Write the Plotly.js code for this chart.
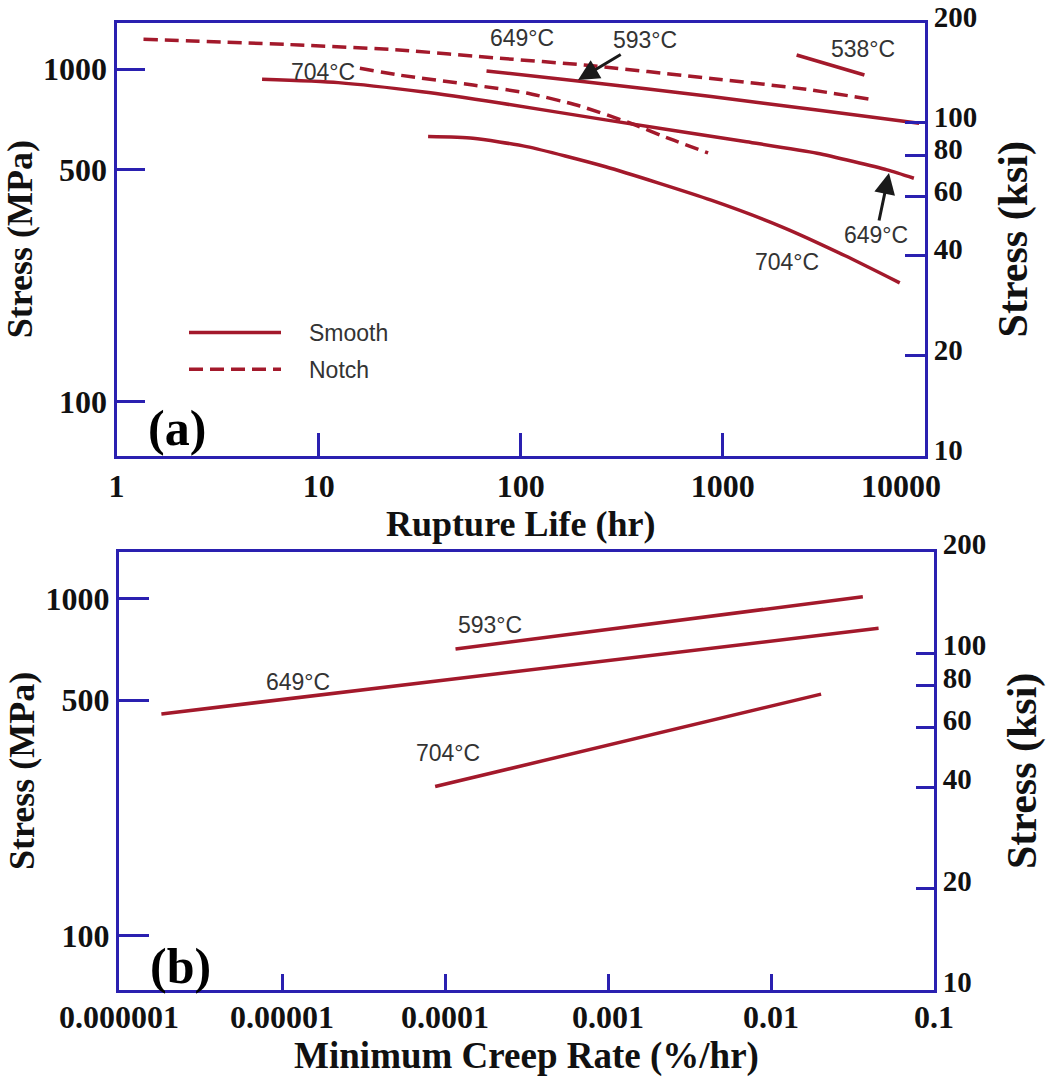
<!DOCTYPE html>
<html>
<head>
<meta charset="utf-8">
<script src="https://cdn.plot.ly/plotly-3.0.1.min.js"></script>
<style>html,body{margin:0;padding:0;background:#fff;}#chart{width:1052px;height:1083px;}</style>
</head>
<body>
<div id="chart"></div>
<script>
// ---------- Panel (a): rupture life (hr) vs stress (MPa) ----------
const notch649_t = [1.36, 8, 25, 79, 206, 875, 2580, 5660];
const notch649_s = [1229, 1182, 1142, 1078, 1029, 938, 870, 808];
const notch704_t = [16, 25, 58, 107, 196, 347, 548, 845];
const notch704_s = [1006, 960, 896, 848, 775, 689, 617, 560];
const smooth538_t = [2316, 5015];
const smooth538_s = [1103, 960];
const smooth593_t = [67.7, 207, 875, 2925, 9350];
const smooth593_s = [988, 917, 827, 754, 688];
const smooth649_t = [5.25, 12.5, 32.5, 79, 263, 1310, 2925, 6500, 8810];
const smooth649_s = [932, 911, 855, 791, 704, 605, 559, 498, 470];
const smooth704_t = [34.8, 58, 107, 263, 875, 1955, 4030, 7500];
const smooth704_s = [627, 620, 585, 509, 404, 336, 275, 228];

// ---------- Panel (b): minimum creep rate (%/hr) vs stress (MPa) ----------
const creep593_r = [1.16e-4, 0.0366];
const creep593_s = [709, 1014];
const creep649_r = [1.82e-6, 0.0457];
const creep649_s = [455, 817];
const creep704_r = [8.7e-5, 0.0203];
const creep704_s = [277, 521];

// ---------- Tick labels ----------
const lifeTicks = [1, 10, 100, 1000, 10000];
const lifeTickText = ['1', '10', '100', '1000', '10000\u2003\u2002'];
const rateTicks = [1e-6, 1e-5, 1e-4, 1e-3, 1e-2, 1e-1];
const rateTickText = ['0.000001', '0.00001', '0.0001', '0.001', '0.01', '0.1'];
const mpaTicks = [100, 500, 1000];
const ksiTicks = [10, 20, 40, 60, 80, 100, 200];
const MPA_PER_KSI = 6.895;
const ksiMin = 10, ksiMax = 200;

const RED = '#a3192b';
const BLUE = '#2a20b0';
const W = 1052, H = 1083;
const px = (x) => x / W;
const py = (y) => 1 - y / H;

const serifBold = (size) => ({family: 'Liberation Serif, Times New Roman, serif', size: size, color: '#111', weight: 'bold'});
const labelFont = {family: 'Liberation Sans, Arial, sans-serif', size: 23, color: '#333'};

function curve(x, y, dashed, temp, axes, legendName, showLeg) {
  return {
    type: 'scatter', mode: 'lines', x: x, y: y,
    xaxis: axes[0], yaxis: axes[1],
    name: '\u2003' + legendName, legendgroup: legendName, showlegend: showLeg,
    line: {color: RED, width: 3.5, dash: dashed ? '14px,7px' : 'solid', shape: 'spline', smoothing: 0.6},
    hovertemplate: temp + ' ' + legendName + '<br>%{x}<br>%{y} MPa<extra></extra>'
  };
}
// empty helper traces so that the ksi (right) axes are drawn
function ksiAxisHolder(xa, ya) {
  return {type: 'scatter', mode: 'lines', x: [], y: [], xaxis: xa, yaxis: ya, showlegend: false, hoverinfo: 'skip'};
}

const A = ['x', 'y'], B = ['x2', 'y3'];
const data = [
  curve(smooth593_t, smooth593_s, false, '593°C', A, 'Smooth', true),
  curve(smooth538_t, smooth538_s, false, '538°C', A, 'Smooth', false),
  curve(smooth649_t, smooth649_s, false, '649°C', A, 'Smooth', false),
  curve(smooth704_t, smooth704_s, false, '704°C', A, 'Smooth', false),
  curve(notch649_t, notch649_s, true, '649°C', A, 'Notch', true),
  curve(notch704_t, notch704_s, true, '704°C', A, 'Notch', false),
  curve(creep593_r, creep593_s, false, '593°C', B, 'Smooth', false),
  curve(creep649_r, creep649_s, false, '649°C', B, 'Smooth', false),
  curve(creep704_r, creep704_s, false, '704°C', B, 'Smooth', false),
  ksiAxisHolder('x', 'y2'),
  ksiAxisHolder('x2', 'y4')
];

const mpaRange = [Math.log10(ksiMin * MPA_PER_KSI), Math.log10(ksiMax * MPA_PER_KSI)];
const ksiRange = [Math.log10(ksiMin), Math.log10(ksiMax)];

function baseAxis(extra) {
  return Object.assign({
    type: 'log', showline: true, linecolor: BLUE, linewidth: 3,
    ticks: 'inside', tickcolor: BLUE, tickwidth: 3,
    showgrid: false, zeroline: false, tickmode: 'array',
    tickfont: serifBold(32), automargin: false, autorange: false
  }, extra);
}

function label(x, y, text) {
  return {xref: 'paper', yref: 'paper', x: px(x), y: py(y), xanchor: 'center', yanchor: 'middle',
    text: text, showarrow: false, font: labelFont};
}
function arrowLabel(tipX, tipY, textX, textY, text) {
  return {xref: 'paper', yref: 'paper', x: px(tipX), y: py(tipY), ax: textX - tipX, ay: textY - tipY,
    xanchor: 'center', yanchor: 'middle', text: text, showarrow: true,
    arrowhead: 2, arrowsize: 1.4, arrowwidth: 3, arrowcolor: '#1a1a1a', font: labelFont};
}
const panelFont = {family: 'Liberation Serif, Times New Roman, serif', size: 50, color: '#000', weight: 'bold'};

const layout = {
  width: W, height: H,
  margin: {l: 0, r: 0, t: 0, b: 0},
  paper_bgcolor: '#fff', plot_bgcolor: '#fff',
  showlegend: true,
  legend: {
    x: px(184), y: py(311), xanchor: 'left', yanchor: 'top',
    bgcolor: 'rgba(0,0,0,0)', font: labelFont, itemwidth: 92,
    tracegroupgap: 4
  },
  xaxis: baseAxis({
    domain: [px(116.5), px(925)], anchor: 'y', range: [0, 4], mirror: true,
    tickvals: lifeTicks, ticktext: lifeTickText, ticklen: 23, ticklabelstandoff: 0,
    title: {text: 'Rupture Life (hr)', font: serifBold(36), standoff: 0}
  }),
  yaxis: baseAxis({
    domain: [py(455.7), py(22.7)], anchor: 'x', range: mpaRange,
    tickvals: mpaTicks, ticktext: mpaTicks.map(String), ticklen: 28,
    title: {text: 'Stress (MPa)', font: serifBold(36), standoff: 0}
  }),
  yaxis2: baseAxis({
    overlaying: 'y', side: 'right', anchor: 'x', range: ksiRange,
    tickvals: ksiTicks, ticktext: ksiTicks.map(String), ticklen: 20,
    tickfont: serifBold(29), ticklabelshift: -6,
    title: {text: 'Stress (ksi)', font: serifBold(42), standoff: 22}
  }),
  xaxis2: baseAxis({
    domain: [px(119), px(934)], anchor: 'y3', range: [-6, -1], mirror: true,
    tickvals: rateTicks, ticktext: rateTickText, ticklen: 16, ticklabelstandoff: -3,
    tickfont: serifBold(32),
    title: {text: 'Minimum Creep Rate (%/hr)', font: serifBold(37), standoff: 2}
  }),
  yaxis3: baseAxis({
    domain: [py(990), py(551.7)], anchor: 'x2', range: mpaRange,
    tickvals: mpaTicks, ticktext: mpaTicks.map(String), ticklen: 30,
    title: {text: 'Stress (MPa)', font: serifBold(36), standoff: 0}
  }),
  yaxis4: baseAxis({
    overlaying: 'y3', side: 'right', anchor: 'x2', range: ksiRange,
    tickvals: ksiTicks, ticktext: ksiTicks.map(String), ticklen: 18,
    tickfont: serifBold(29), ticklabelshift: -8,
    title: {text: 'Stress (ksi)', font: serifBold(42), standoff: 22}
  }),
  annotations: [
    label(522, 38, '649°C'),
    arrowLabel(578, 80, 645, 40, '593°C'),
    label(863, 49, '538°C'),
    label(323, 72, '704°C'),
    label(787, 262, '704°C'),
    arrowLabel(889, 173, 876, 235, '649°C'),
    label(490, 625, '593°C'),
    label(298, 682, '649°C'),
    label(448, 753, '704°C'),
    {xref: 'paper', yref: 'paper', x: px(177), y: py(428), xanchor: 'center', yanchor: 'middle', text: '(a)', showarrow: false, font: panelFont},
    {xref: 'paper', yref: 'paper', x: px(180), y: py(966), xanchor: 'center', yanchor: 'middle', text: '(b)', showarrow: false, font: panelFont}
  ]
};

Plotly.newPlot('chart', data, layout, {displayModeBar: false, staticPlot: true});
</script>
</body>
</html>
